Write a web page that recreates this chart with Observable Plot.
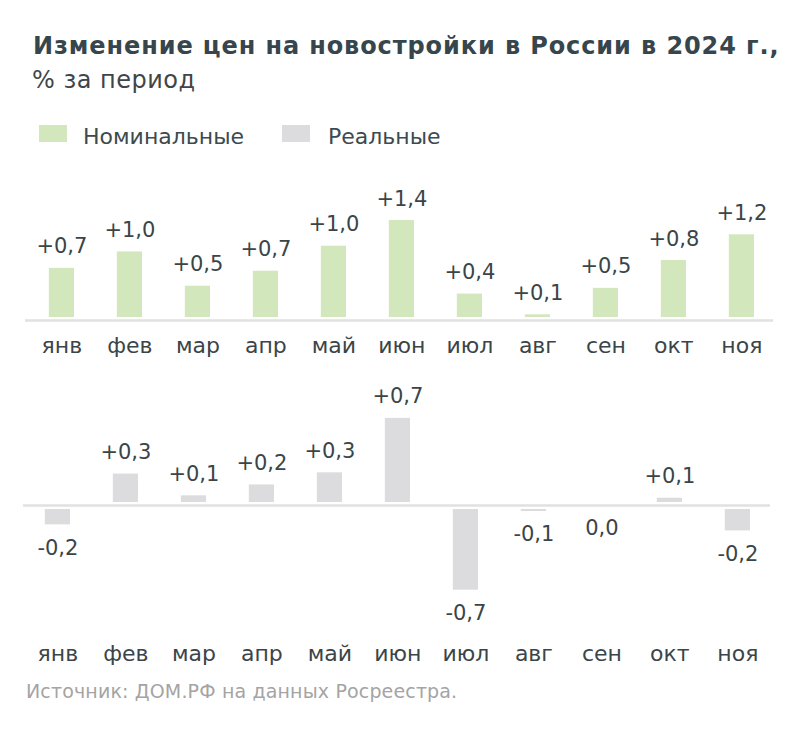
<!DOCTYPE html>
<html>
<head>
<meta charset="utf-8">
<script src="https://cdn.jsdelivr.net/npm/d3@7"></script>
<script src="https://cdn.jsdelivr.net/npm/@observablehq/plot@0.6"></script>
<style>
  html, body { margin: 0; padding: 0; background: #ffffff; }
  #root { position: relative; width: 800px; height: 738px; font-family: "DejaVu Sans", sans-serif; overflow: hidden; }
  .abs { position: absolute; white-space: nowrap; line-height: 1; }
  #title { left: 33px; top: 34px; font-size: 24px; font-weight: bold; color: #36464c; letter-spacing: 0.9px; }
  #subtitle { left: 32px; top: 68px; font-size: 24px; color: #3f4548; letter-spacing: 0.5px; }
  .sw { position: absolute; width: 28px; height: 17px; }
  .lg { font-size: 22px; color: #3d4a4e; }
  #source { left: 26px; top: 682px; font-size: 19px; color: #a4a4a4; letter-spacing: 0.15px; }
  #top, #bottom { position: absolute; left: 0; }
  #top { top: 160px; }
  #bottom { top: 375px; }
</style>
</head>
<body>
<div id="root">
  <div id="title" class="abs">Изменение цен на новостройки в России в 2024 г.,</div>
  <div id="subtitle" class="abs">% за период</div>
  <div id="legend"></div>
  <div id="top"></div>
  <div id="bottom"></div>
  <div id="source" class="abs">Источник: ДОМ.РФ на данных Росреестра.</div>
</div>
<script>
const months = ["янв","фев","мар","апр","май","июн","июл","авг","сен","окт","ноя"];
const nominal = [0.73, 0.96, 0.48, 0.69, 1.04, 1.40, 0.37, 0.08, 0.45, 0.84, 1.20];
const nominalLabels = ["+0,7","+1,0","+0,5","+0,7","+1,0","+1,4","+0,4","+0,1","+0,5","+0,8","+1,2"];
const real = [-0.16, 0.26, 0.08, 0.17, 0.27, 0.72, -0.70, -0.05, 0.00, 0.06, -0.21];
const realLabels = ["-0,2","+0,3","+0,1","+0,2","+0,3","+0,7","-0,7","-0,1","0,0","+0,1","-0,2"];
const seriesNames = ["Номинальные", "Реальные"];
const colors = ["#d3e7bc", "#dcdcde"];

const textColor = "#3b4548";
const font = "DejaVu Sans, sans-serif";

// legend
const legend = document.getElementById("legend");
const swatchX = [39, 282];
const legendTextX = [83, 328];
seriesNames.forEach((name, i) => {
  const sw = document.createElement("div");
  sw.className = "sw";
  sw.style.left = swatchX[i] + "px";
  sw.style.top = "125px";
  sw.style.background = colors[i];
  legend.appendChild(sw);
  const t = document.createElement("div");
  t.className = "abs lg";
  t.style.left = legendTextX[i] + "px";
  t.style.top = "126px";
  t.textContent = name;
  legend.appendChild(t);
});

function panel(values, labels, color, opts) {
  const data = months.map((m, i) => ({month: m, value: values[i], label: labels[i]}));
  const pos = data.filter(d => d.value > 0);
  const neg = data.filter(d => d.value <= 0);
  return Plot.plot({
    width: 800,
    height: opts.height,
    marginLeft: 0,
    marginRight: 0,
    marginTop: 0,
    marginBottom: opts.marginBottom,
    style: {fontFamily: font, background: "transparent", color: textColor},
    x: {domain: months, range: opts.xRange, padding: 0.63, round: false, axis: null},
    y: {domain: opts.yDomain, range: opts.yRange, axis: null},
    marks: [
      Plot.ruleY([0], {stroke: "#e1e1e1", strokeWidth: 2.5, insetLeft: opts.lineInset[0], insetRight: opts.lineInset[1]}),
      Plot.barY(pos, {x: "month", y: "value", fill: color, insetBottom: 3}),
      Plot.barY(neg.filter(d => d.value < 0), {x: "month", y: "value", fill: color, insetTop: 4}),
      Plot.text(pos, {x: "month", y: "value", text: "label", lineAnchor: "bottom", dy: -15, fontSize: 21, fill: textColor}),
      Plot.text(neg, {x: "month", y: "value", text: "label", lineAnchor: "top", dy: 15, fontSize: 21, fill: textColor}),
      Plot.axisX({domain: months, anchor: "bottom", tickSize: 0, tickPadding: 17, fontSize: 22, color: textColor, label: null})
    ]
  });
}

document.getElementById("top").appendChild(panel(nominal, nominalLabels, colors[0], {
  height: 215, marginBottom: 55,
  xRange: [6, 796.8],
  yDomain: [0, 1.4], yRange: [160, 60],
  lineInset: [25, 27]
}));

document.getElementById("bottom").appendChild(panel(real, realLabels, colors[1], {
  height: 300, marginBottom: 47,
  xRange: [2, 792.8],
  yDomain: [-1, 1], yRange: [251, 9],
  lineInset: [23, 30]
}));
</script>
</body>
</html>
